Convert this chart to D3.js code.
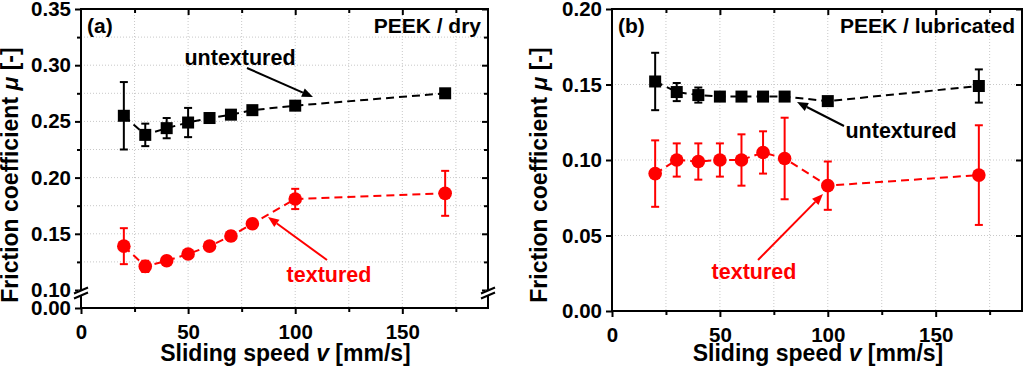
<!DOCTYPE html>
<html>
<head>
<meta charset="utf-8">
<script src="https://cdn.jsdelivr.net/npm/d3@7"></script>
<style>
  body { margin: 0; background: #fff; }
  svg { display: block; font-family: "Liberation Sans", Arial, sans-serif; font-weight: bold; }
</style>
</head>
<body>
<svg id="chart" width="1024" height="366"></svg>
<script>
// sliding speed [mm/s]
const speeds = [20, 30, 40, 50, 60, 70, 80, 100, 170];

// (a) PEEK / dry
const dryUntextured    = [0.255, 0.238, 0.244, 0.249, 0.253, 0.256, 0.260, 0.264, 0.275];
const dryUntexturedErr = [0.030, 0.010, 0.009, 0.013, 0.004, 0.003, 0.002, 0.002, 0.002];
const dryTextured      = [0.139, 0.121, 0.126, 0.132, 0.139, 0.148, 0.159, 0.181, 0.186];
const dryTexturedErr   = [0.016, 0.005, 0.003, 0.003, 0.003, 0.004, 0.003, 0.009, 0.020];

// (b) PEEK / lubricated
const lubUntextured    = [0.152, 0.145, 0.143, 0.142, 0.142, 0.142, 0.142, 0.139, 0.149];
const lubUntexturedErr = [0.019, 0.006, 0.005, 0.002, 0.002, 0.002, 0.002, 0.002, 0.011];
const lubTextured      = [0.091, 0.100, 0.099, 0.100, 0.100, 0.105, 0.101, 0.083, 0.090];
const lubTexturedErr   = [0.022, 0.011, 0.012, 0.011, 0.017, 0.014, 0.027, 0.016, 0.033];

// tick labels
const xTicks = [0, 50, 100, 150];
const xMinor = [25, 75, 125, 175];
const dryYTicks = [0, 0.10, 0.15, 0.20, 0.25, 0.30, 0.35];
const dryYMinor = [0.125, 0.175, 0.225, 0.275, 0.325];
const lubYTicks = [0, 0.05, 0.10, 0.15, 0.20];

const RED = "#ff0000";
const svg = d3.select("#chart");

function drawPanel(opt) {
    const g = svg.append("g");
    const x = d3.scaleLinear().domain([0, 190]).range([opt.left, opt.right]);
    const y = d3.scaleLinear().domain(opt.yDomain).range(opt.yRange);
    const top = opt.yRange[opt.yRange.length - 1], bottom = opt.yRange[0];

    // grid lines (dotted)
    const gridY = opt.gridY;
    g.selectAll(".gx").data(xMinor.concat([50, 100, 150])).enter().append("line")
        .attr("x1", d => x(d)).attr("x2", d => x(d)).attr("y1", top).attr("y2", bottom)
        .attr("stroke", "#c8c8c8").attr("stroke-width", 1).attr("stroke-dasharray", "1,2");
    g.selectAll(".gy").data(gridY).enter().append("line")
        .attr("x1", opt.left).attr("x2", opt.right).attr("y1", d => y(d)).attr("y2", d => y(d))
        .attr("stroke", "#c8c8c8").attr("stroke-width", 1).attr("stroke-dasharray", "1,2");

    // axes
    const axStyle = sel => {
        sel.select(".domain").remove();
        sel.selectAll(".tick line").attr("stroke", "#000").attr("stroke-width", 2);
        sel.selectAll(".tick text").attr("font-size", "20.5px").attr("font-weight", "bold").attr("fill", "#000")
            .attr("font-family", "'Liberation Sans', Arial, sans-serif");
    };
    g.append("g").attr("transform", `translate(0,${bottom})`)
        .call(d3.axisBottom(x).tickValues(xTicks).tickSize(6).tickPadding(8).tickFormat(d3.format("d")))
        .call(axStyle).selectAll(".tick text").attr("dy", "0.85em");
    g.append("g").attr("transform", `translate(0,${bottom})`)
        .call(d3.axisBottom(x).tickValues(xMinor).tickSize(4).tickFormat("")).call(axStyle);
    g.append("g").attr("transform", `translate(0,${top})`)
        .call(d3.axisTop(x).tickValues(xTicks.slice(1)).tickSize(-6).tickFormat("")).call(axStyle);
    g.append("g").attr("transform", `translate(0,${top})`)
        .call(d3.axisTop(x).tickValues(xMinor).tickSize(-4).tickFormat("")).call(axStyle);
    g.append("g").attr("transform", `translate(${opt.left},0)`)
        .call(d3.axisLeft(y).tickValues(opt.yTicks).tickSize(6).tickPadding(4).tickFormat(d3.format(".2f")))
        .call(axStyle);
    g.append("g").attr("transform", `translate(${opt.right},0)`)
        .call(d3.axisRight(y).tickValues(opt.yTicks.slice(1)).tickSize(-6).tickFormat("")).call(axStyle);
    if (opt.yMinor) {
        g.append("g").attr("transform", `translate(${opt.left},0)`)
            .call(d3.axisLeft(y).tickValues(opt.yMinor).tickSize(4).tickFormat("")).call(axStyle);
        g.append("g").attr("transform", `translate(${opt.right},0)`)
            .call(d3.axisRight(y).tickValues(opt.yMinor).tickSize(-4).tickFormat("")).call(axStyle);
    }

    // frame
    g.append("rect").attr("x", opt.left).attr("y", top)
        .attr("width", opt.right - opt.left).attr("height", bottom - top)
        .attr("fill", "none").attr("stroke", "#000").attr("stroke-width", 2);

    // axis break
    if (opt.breakAt) {
        const yb = opt.breakAt;
        [opt.left, opt.right].forEach(xb => {
            g.append("rect").attr("x", xb - 3).attr("y", yb - 2.5).attr("width", 6).attr("height", 5).attr("fill", "#fff");
            [-2.5, 2.5].forEach(off => {
                g.append("line").attr("x1", xb - 7).attr("y1", yb + off + 3).attr("x2", xb + 7).attr("y2", yb + off - 3)
                    .attr("stroke", "#000").attr("stroke-width", 2);
            });
        });
    }

    // series
    opt.series.forEach(s => {
        const pts = speeds.map((v, i) => ({ v: v, mu: s.values[i], err: s.errors[i] }));
        g.append("path").datum(pts)
            .attr("d", d3.line().x(d => x(d.v)).y(d => y(d.mu)))
            .attr("fill", "none").attr("stroke", s.color).attr("stroke-width", 2).attr("stroke-dasharray", "8,5");
        const eb = g.selectAll(null).data(pts).enter().append("g").attr("stroke", s.color).attr("stroke-width", 2);
        eb.append("line").attr("x1", d => x(d.v)).attr("x2", d => x(d.v))
            .attr("y1", d => y(d.mu - d.err)).attr("y2", d => y(d.mu + d.err));
        eb.append("line").attr("x1", d => x(d.v) - 4).attr("x2", d => x(d.v) + 4)
            .attr("y1", d => y(d.mu - d.err)).attr("y2", d => y(d.mu - d.err));
        eb.append("line").attr("x1", d => x(d.v) - 4).attr("x2", d => x(d.v) + 4)
            .attr("y1", d => y(d.mu + d.err)).attr("y2", d => y(d.mu + d.err));
        if (s.shape === "square") {
            g.selectAll(null).data(pts).enter().append("rect")
                .attr("x", d => x(d.v) - 6).attr("y", d => y(d.mu) - 6).attr("width", 12).attr("height", 12)
                .attr("fill", s.color);
        } else {
            g.selectAll(null).data(pts).enter().append("circle")
                .attr("cx", d => x(d.v)).attr("cy", d => y(d.mu)).attr("r", 6.8).attr("fill", s.color);
        }
    });

    // axis titles
    const yt = g.append("text").attr("transform", `translate(${opt.yTitleX},175) rotate(-90)`)
        .attr("text-anchor", "middle").attr("font-size", "23px").attr("fill", "#000");
    yt.append("tspan").text("Friction coefficient ");
    yt.append("tspan").attr("font-style", "italic").text("\u03bc");
    yt.append("tspan").text(" [-]");
    const xt = g.append("text").attr("x", (opt.left + opt.right) / 2 + 1).attr("y", 361)
        .attr("text-anchor", "middle").attr("font-size", "23px").attr("fill", "#000");
    xt.append("tspan").text("Sliding speed ");
    xt.append("tspan").attr("font-style", "italic").text("v");
    xt.append("tspan").text(" [mm/s]");

    // labels
    g.append("text").attr("x", opt.left + 6).attr("y", 33).attr("font-size", "21px").attr("fill", "#000").text(opt.tag);
    g.append("text").attr("x", opt.right - 7).attr("y", 33).attr("text-anchor", "end")
        .attr("font-size", "21px").attr("fill", "#000").text(opt.title);

    opt.notes.forEach(n => {
        g.append("text").attr("x", n.tx).attr("y", n.ty).attr("text-anchor", "middle")
            .attr("font-size", "21.5px").attr("fill", n.color).text(n.text);
        const ang = Math.atan2(n.y2 - n.y1, n.x2 - n.x1);
        const hl = 11, hw = 4.5;
        const bx = n.x2 - hl * Math.cos(ang), by = n.y2 - hl * Math.sin(ang);
        g.append("line").attr("x1", n.x1).attr("y1", n.y1).attr("x2", bx).attr("y2", by)
            .attr("stroke", n.color).attr("stroke-width", 2);
        g.append("path")
            .attr("d", `M${n.x2},${n.y2}L${bx - hw * Math.sin(ang)},${by + hw * Math.cos(ang)}L${bx + hw * Math.sin(ang)},${by - hw * Math.cos(ang)}Z`)
            .attr("fill", n.color);
    });
}

drawPanel({
    left: 81, right: 488,
    yDomain: [0, 0.10, 0.35], yRange: [308, 290, 9],
    yTicks: dryYTicks, yMinor: dryYMinor,
    gridY: [0.125, 0.15, 0.175, 0.20, 0.225, 0.25, 0.275, 0.30, 0.325],
    breakAt: 293,
    yTitleX: 18,
    tag: "(a)", title: "PEEK / dry",
    series: [
        { values: dryUntextured, errors: dryUntexturedErr, color: "#000", shape: "square" },
        { values: dryTextured, errors: dryTexturedErr, color: RED, shape: "circle" }
    ],
    notes: [
        { text: "untextured", tx: 240, ty: 65, color: "#000", x1: 247, y1: 68, x2: 313, y2: 97 },
        { text: "textured", tx: 329, ty: 282, color: RED, x1: 327, y1: 260, x2: 268, y2: 217 }
    ]
});

drawPanel({
    left: 612, right: 1022,
    yDomain: [0, 0.20], yRange: [311, 9],
    yTicks: lubYTicks, yMinor: null,
    gridY: [0.05, 0.10, 0.15],
    breakAt: null,
    yTitleX: 547,
    tag: "(b)", title: "PEEK / lubricated",
    series: [
        { values: lubUntextured, errors: lubUntexturedErr, color: "#000", shape: "square" },
        { values: lubTextured, errors: lubTexturedErr, color: RED, shape: "circle" }
    ],
    notes: [
        { text: "untextured", tx: 901, ty: 138, color: "#000", x1: 844, y1: 126, x2: 797, y2: 102 },
        { text: "textured", tx: 754, ty: 279, color: RED, x1: 758, y1: 260, x2: 823, y2: 194 }
    ]
});
</script>
</body>
</html>
